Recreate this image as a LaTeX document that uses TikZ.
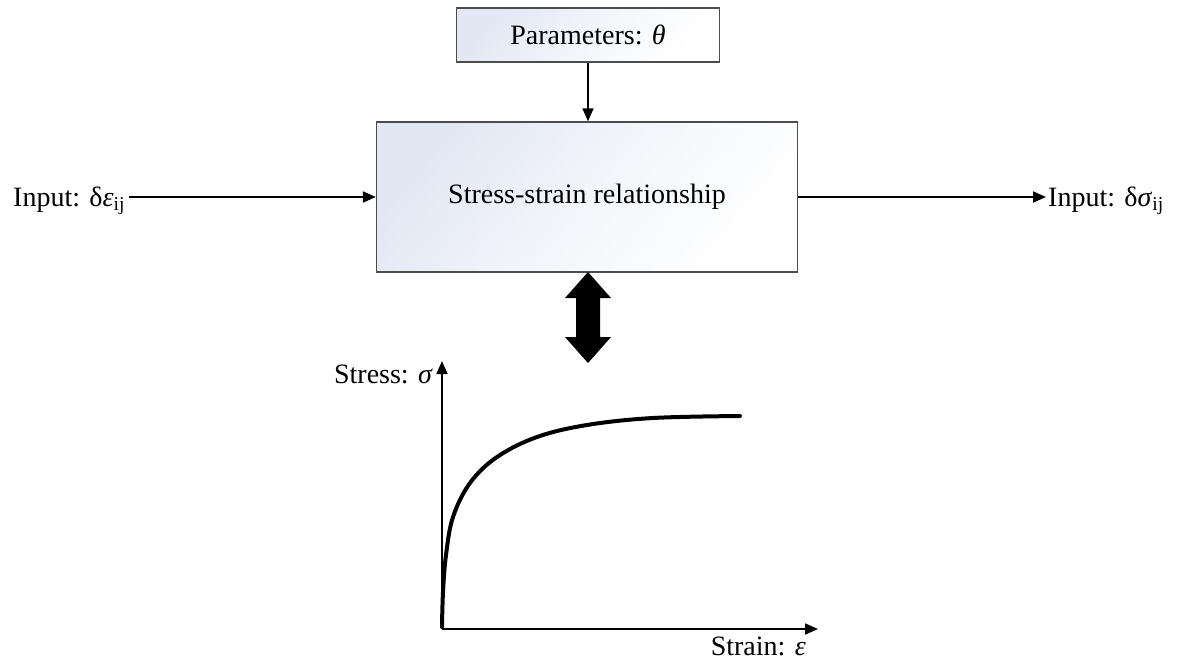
\documentclass[tikz,border=0pt]{standalone}
\usepackage{fontspec}
\setmainfont{Liberation Serif}
\usetikzlibrary{arrows.meta}
\definecolor{boxtop}{RGB}{226,231,244}
\begin{document}
\begin{tikzpicture}[x=1pt,y=-1pt,
  box/.style={draw=black!70, line width=1.3pt, top color=boxtop, bottom color=white, middle color=white!60!boxtop, shading angle=50, inner sep=0pt, font=\fontsize{28}{34}\selectfont},
  lbl/.style={font=\fontsize{28}{34}\selectfont, inner sep=0pt},
  conn/.style={line width=1.9pt, -{Triangle[length=13pt,width=11pt]}},
  axisline/.style={line width=1.8pt, -{Triangle[length=13pt,width=11pt]}},
  curveline/.style={line width=4pt, line cap=round, line join=round},
]
\useasboundingbox (0,0) rectangle (1179,662);
% boxes
\node[box, minimum width=263pt, minimum height=54pt] (par) at (588,35) {Parameters: \textit{θ}};
\node[box, minimum width=421pt, minimum height=150pt] (main) at (587,197) {Stress-strain relationship};
% input / output
\node[lbl, anchor=base west] (in) at (13,206) {Input: δ\textit{ε}\textsubscript{ij}};
\node[lbl, anchor=base west] (out) at (1048,206) {Input: δ\textit{σ}\textsubscript{ij}};
\draw[conn] ([xshift=4pt]in.east |- main.west) -- (main.west);
\draw[conn, shorten >=2pt] (main.east) -- (out.west |- main.east);
\draw[conn, line width=1.5pt] (par.south) -- (par.south |- main.north);
% block double arrow
\fill (588,272) -- (611,298) -- (600,298) -- (600,337) -- (611,337) -- (588,363)
  -- (565,337) -- (576,337) -- (576,298) -- (565,298) -- cycle;
% axes
\coordinate (O) at (442,629);
\coordinate (ytop) at (442,361);
\coordinate (xend) at (818,629);
\draw[axisline] (O) -- (ytop);
\draw[axisline] (O) -- (xend);
\node[lbl, anchor=base east] (ylab) at (433,383) {Stress: \textit{σ}};
\node[lbl, anchor=base east] (xlab) at (806,655) {Strain: \textit{ε}};
% curve
\draw[curveline] plot[smooth, tension=0.6] coordinates {(442,627) (443,592) (446,555) (453,517) (470,483) (497,457) (537,437) (587,425) (653,418) (740,416)};
\end{tikzpicture}
\end{document}
